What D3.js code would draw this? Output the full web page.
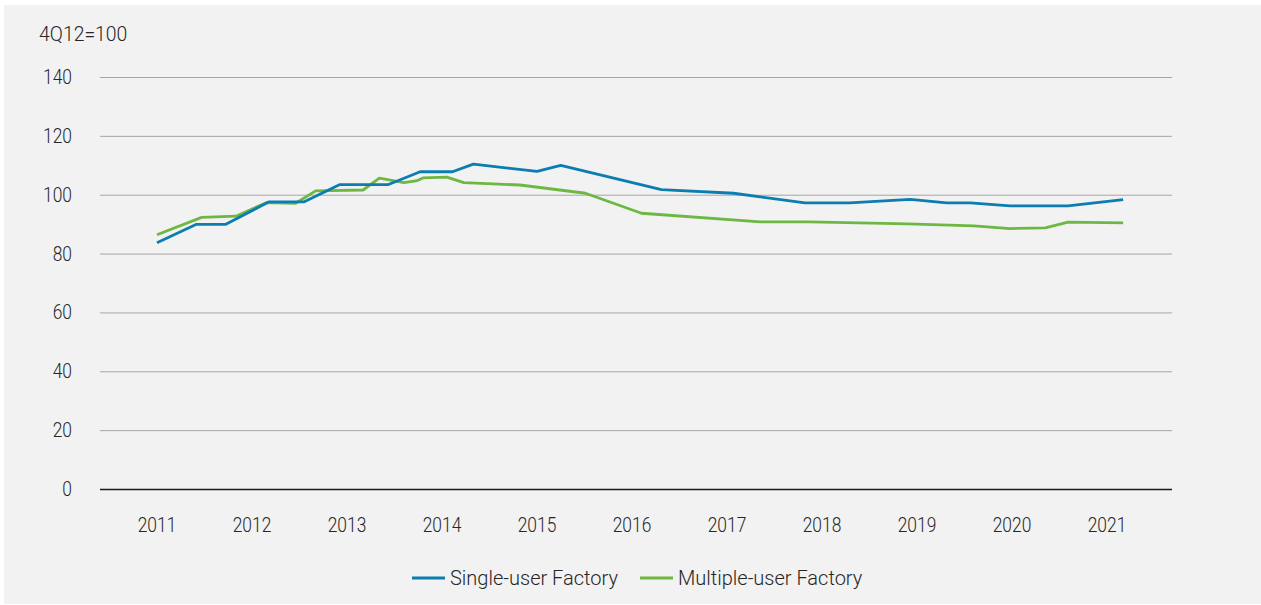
<!DOCTYPE html>
<html>
<head>
<meta charset="utf-8">
<script src="https://cdn.jsdelivr.net/npm/d3@7/dist/d3.min.js"></script>
<style>
  html, body { margin: 0; padding: 0; background: #ffffff; }
  svg { display: block; font-family: Roboto, "Noto Sans", sans-serif; }
</style>
</head>
<body>
<svg id="chart" width="1261" height="605"></svg>
<script>
// Rent index, 4Q12 = 100 (time in fractional years)
const singleUserTime = [2011.00, 2011.41, 2011.72, 2012.18, 2012.55, 2012.92, 2013.43, 2013.77, 2014.11, 2014.33,
  2015.00, 2015.25, 2016.31, 2017.07, 2017.82, 2018.29, 2018.93, 2019.31, 2019.56, 2019.98, 2020.59, 2021.17];
const singleUserValues = [83.7, 89.9, 89.9, 97.6, 97.6, 103.4, 103.4, 107.8, 107.8, 110.4,
  107.9, 110.0, 101.7, 100.5, 97.2, 97.2, 98.4, 97.2, 97.2, 96.2, 96.2, 98.3];

const multiUserTime = [2011.00, 2011.47, 2011.83, 2012.15, 2012.46, 2012.67, 2013.17, 2013.34, 2013.60, 2013.74,
  2013.80, 2014.05, 2014.23, 2014.82, 2015.51, 2016.10, 2017.35, 2017.87, 2018.90, 2019.60, 2019.98, 2020.35,
  2020.59, 2021.17];
const multiUserValues = [86.4, 92.3, 92.7, 97.3, 97.1, 101.3, 101.6, 105.6, 104.1, 104.8,
  105.7, 106.0, 104.1, 103.3, 100.5, 93.7, 90.8, 90.8, 90.1, 89.4, 88.5, 88.7,
  90.7, 90.4];

const yearTicks = [2011, 2012, 2013, 2014, 2015, 2016, 2017, 2018, 2019, 2020, 2021];
const valueTicks = [0, 20, 40, 60, 80, 100, 120, 140];
const seriesNames = ["Single-user Factory", "Multiple-user Factory"];
const seriesColors = ["#0b7db0", "#6db843"];
const unitLabel = "4Q12=100";

const svg = d3.select("#chart");
const textColor = "#262626";
const tickSquash = 0.87; // narrower figures for the tick labels

// panel background
svg.append("rect").attr("x", 4).attr("y", 5).attr("width", 1257).attr("height", 599).attr("fill", "#f2f2f2");

const x = d3.scaleLinear().domain([2011, 2021]).range([157, 1107]);
const y = d3.scaleLinear().domain([0, 140]).range([489, 77]);
const plotLeft = 100, plotRight = 1172;

// horizontal gridlines
svg.append("g").selectAll("line").data(valueTicks.filter(v => v !== 0)).join("line")
  .attr("x1", plotLeft).attr("x2", plotRight)
  .attr("y1", d => y(d) + 0.5).attr("y2", d => y(d) + 0.5)
  .attr("stroke", "#a6a6a6").attr("stroke-width", 1);

// zero baseline
svg.append("line").attr("x1", plotLeft).attr("x2", plotRight)
  .attr("y1", y(0) + 0.5).attr("y2", y(0) + 0.5)
  .attr("stroke", "#1a1a1a").attr("stroke-width", 1.3);

// y tick labels
svg.append("g").selectAll("text").data(valueTicks).join("text")
  .attr("transform", d => `translate(72,${y(d)}) scale(${tickSquash},1)`)
  .attr("dy", "0.35em")
  .attr("text-anchor", "end").attr("font-size", 20).attr("font-weight", 300).attr("fill", textColor)
  .text(d => d);

// x tick labels
svg.append("g").selectAll("text").data(yearTicks).join("text")
  .attr("transform", d => `translate(${x(d)},524.5) scale(${tickSquash},1)`)
  .attr("dy", "0.35em")
  .attr("text-anchor", "middle").attr("font-size", 20).attr("font-weight", 300).attr("fill", textColor)
  .text(d => d);

// unit label
svg.append("text").attr("transform", "translate(39,34) scale(0.97,1)").attr("dy", "0.35em")
  .attr("font-size", 20).attr("font-weight", 300).attr("fill", textColor).text(unitLabel);

const line = d3.line().x(d => x(d[0])).y(d => y(d[1]));
const series = [
  d3.zip(singleUserTime, singleUserValues),
  d3.zip(multiUserTime, multiUserValues)
];

// draw multiple-user first so single-user sits on top
[1, 0].forEach(i => {
  svg.append("path").datum(series[i])
    .attr("d", line).attr("fill", "none")
    .attr("stroke", seriesColors[i]).attr("stroke-width", 2.8)
    .attr("stroke-linejoin", "round");
});

// legend
const legend = svg.append("g");
const legendItems = [{ x: 412 }, { x: 640 }];
legendItems.forEach((it, i) => {
  legend.append("line").attr("x1", it.x).attr("x2", it.x + 33)
    .attr("y1", 578).attr("y2", 578)
    .attr("stroke", seriesColors[i]).attr("stroke-width", 3);
  legend.append("text").attr("x", it.x + 38).attr("y", 578).attr("dy", "0.35em")
    .attr("font-size", 20).attr("font-weight", 300).attr("fill", textColor).text(seriesNames[i]);
});
</script>
</body>
</html>
